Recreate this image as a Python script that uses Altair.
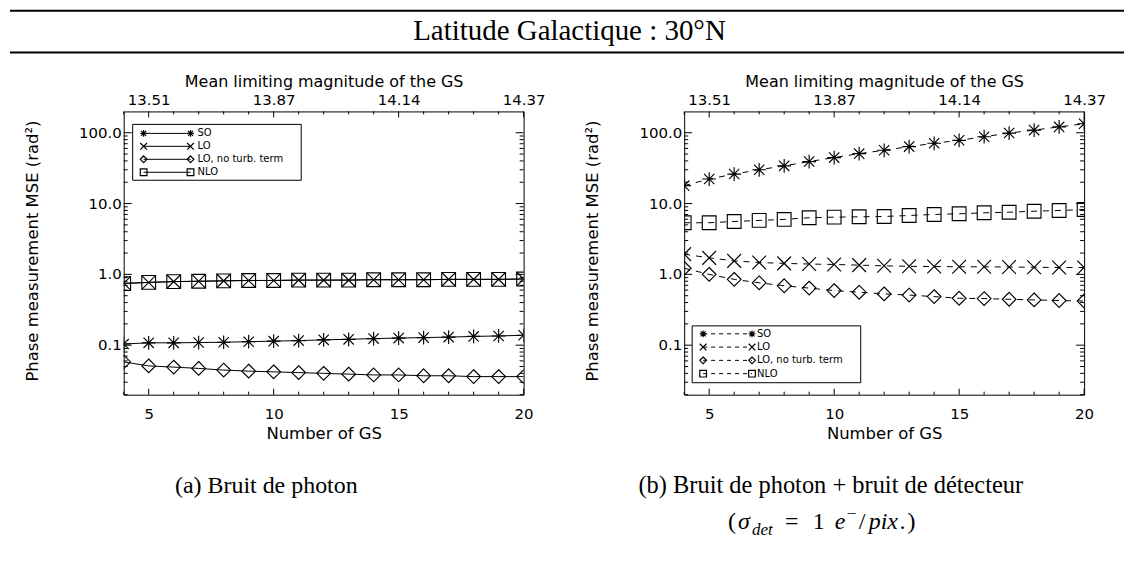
import altair as alt
import pandas as pd

# ---------------- data ----------------
N_GS = list(range(4, 21))
SERIES = ["SO", "LO", "LO, no turb. term", "NLO"]

# (a) photon noise
a_SO = [0.104, 0.108, 0.108, 0.109, 0.110, 0.112, 0.114, 0.116, 0.119, 0.121,
        0.124, 0.126, 0.128, 0.130, 0.133, 0.135, 0.138]
a_LO = [0.75, 0.77, 0.79, 0.80, 0.81, 0.82, 0.82, 0.83, 0.83, 0.83,
        0.84, 0.84, 0.84, 0.85, 0.85, 0.85, 0.86]
a_LO_noturb = [0.058, 0.051, 0.049, 0.047, 0.0445, 0.043, 0.042, 0.041, 0.040, 0.039,
               0.038, 0.038, 0.037, 0.037, 0.036, 0.036, 0.036]
a_NLO = [0.74, 0.77, 0.79, 0.80, 0.81, 0.82, 0.82, 0.83, 0.83, 0.83,
         0.84, 0.84, 0.84, 0.85, 0.85, 0.85, 0.86]

# (b) photon + detector noise
b_SO = [17.9, 22.2, 26.1, 30.0, 34.1, 39.2, 44.6, 50.7, 56.6, 63.7,
        71.0, 78.2, 87.9, 99.0, 109.0, 121.0, 134.0]
b_LO = [1.93, 1.71, 1.55, 1.47, 1.43, 1.40, 1.38, 1.35, 1.32, 1.30,
        1.29, 1.28, 1.28, 1.27, 1.26, 1.25, 1.25]
b_LO_noturb = [1.22, 1.00, 0.85, 0.76, 0.69, 0.64, 0.59, 0.56, 0.53, 0.51,
               0.485, 0.46, 0.455, 0.445, 0.436, 0.427, 0.42]
b_NLO = [5.36, 5.36, 5.58, 5.78, 5.97, 6.31, 6.43, 6.50, 6.57, 6.79,
         7.02, 7.17, 7.40, 7.55, 7.80, 7.98, 8.24]

# ticks / labels
X_MAJOR = [5, 10, 15, 20]
X_MINOR = [4, 6, 7, 8, 9, 11, 12, 13, 14, 16, 17, 18, 19]
MAG_LABELS = ["13.51", "13.87", "14.14", "14.37"]
Y_MAJOR = [0.1, 1, 10, 100]
Y_LABELS = ["0.1", "1.0", "10.0", "100.0"]
Y_MINOR = [0.02, 0.03, 0.04, 0.05, 0.06, 0.07, 0.08, 0.09,
           0.2, 0.3, 0.4, 0.5, 0.6, 0.7, 0.8, 0.9,
           2, 3, 4, 5, 6, 7, 8, 9,
           20, 30, 40, 50, 60, 70, 80, 90]

TITLE_TEXT = "Latitude Galactique : 30°N"
CAPTION_A = "(a) Bruit de photon"
CAPTION_B = "(b) Bruit de photon + bruit de détecteur"
CAPTION_B2 = ["(", "σ", "det", "=", "1", "e", "−", "/", "pix", ".", ")"]
X_TITLE = "Number of GS"
TOP_TITLE = "Mean limiting magnitude of the GS"
Y_TITLE = "Phase measurement MSE (rad²)"

# ---------------- layout / style ----------------
W, H = 401, 284
SANS = "DejaVu Sans"
SERIF = "Liberation Serif"
TITLE_FS = 16.5
XS = dict(domain=[4, 20], nice=False, zero=False)
YS = dict(type="log", domain=[0.02, 200], nice=False)

SHAPE_PATHS = [
    "M-1,0L1,0M0,-1L0,1M-0.75,-0.75L0.75,0.75M-0.75,0.75L0.75,-0.75",  # asterisk
    "M-1,-1L1,1M-1,1L1,-1",                                           # X
    "M0,-1L1,0L0,1L-1,0Z",                                            # diamond
    "M-1,-1L1,-1L1,1L-1,1Z",                                          # square
]
SHAPE_SCALE = alt.Scale(domain=SERIES, range=SHAPE_PATHS)


def lookup_expr(vals, labels):
    return "[" + ",".join("'%s'" % s for s in labels) + "][indexof(" + \
        "[" + ",".join(str(v) for v in vals) + "], datum.value)]"


def xs():
    return alt.Scale(**XS)


def ys():
    return alt.Scale(**YS)


def one(text):
    return pd.DataFrame({"t": [text]})


def vticks(vals, y0, y1, axis=None):
    return alt.Chart(pd.DataFrame({"v": vals})).mark_rule(color="black", strokeWidth=1).encode(
        x=alt.X("v:Q", scale=xs(), axis=axis), y=alt.value(y0), y2=alt.value(y1))


def hticks(vals, x0, x1):
    return alt.Chart(pd.DataFrame({"v": vals})).mark_rule(color="black", strokeWidth=1).encode(
        y=alt.Y("v:Q", scale=ys(), axis=None), x=alt.value(x0), x2=alt.value(x1))


def panel(series_values, dashed, leg):
    rows = []
    for s, vals in zip(SERIES, series_values):
        for n, v in zip(N_GS, vals):
            rows.append({"N": n, "MSE": v, "series": s})
    df = pd.DataFrame(rows)

    line_kw = dict(color="black", strokeWidth=1, clip=True)
    if dashed:
        line_kw["strokeDash"] = [6, 6]

    x_axis = alt.Axis(orient="bottom", values=X_MAJOR, title=X_TITLE, labelPadding=12,
                      titlePadding=4)
    top_axis = alt.Axis(orient="top", values=X_MAJOR, labelExpr=lookup_expr(X_MAJOR, MAG_LABELS),
                        title=TOP_TITLE, titleFontSize=16, labelPadding=4, titlePadding=3)

    lines = alt.Chart(df).mark_line(**line_kw).encode(
        x=alt.X("N:Q", scale=xs(), axis=x_axis),
        y=alt.Y("MSE:Q", scale=ys(), axis=None),
        detail="series:N")
    pts = alt.Chart(df).mark_point(filled=False, color="black", strokeWidth=1.15,
                                   size=190, clip=True, opacity=1).encode(
        x=alt.X("N:Q", scale=xs(), axis=None),
        y=alt.Y("MSE:Q", scale=ys(), axis=None),
        shape=alt.Shape("series:N", scale=SHAPE_SCALE, legend=None))

    # y axis labels and title drawn as text on the shared log scale
    ylab = alt.Chart(pd.DataFrame({"v": Y_MAJOR, "lab": Y_LABELS})).mark_text(
        align="right", baseline="middle", font=SANS, fontSize=15, color="black").encode(
        y=alt.Y("v:Q", scale=ys(), axis=None), x=alt.value(-2), text="lab:N")
    ytitle = alt.Chart(one(Y_TITLE)).mark_text(
        angle=270, align="center", baseline="middle", font=SANS, fontSize=TITLE_FS,
        color="black").encode(x=alt.value(-91), y=alt.value(H / 2 - 2), text="t:N")

    ticks = [
        vticks(X_MAJOR, 0, 6, top_axis),
        vticks(X_MINOR, 0, 3),
        vticks(X_MAJOR, H, H - 6),
        vticks(X_MINOR, H, H - 3),
        hticks(Y_MAJOR, 0, 8),
        hticks(Y_MINOR, 0, 4),
        hticks(Y_MAJOR, W, W - 8),
        hticks(Y_MINOR, W, W - 4),
        ylab, ytitle,
    ]

    # hand-drawn IDL-style legend (pixel layout, one row per series)
    bx0, bx1, by0, by1, row0, step, mx0, mx1, tx = leg
    legend = [alt.Chart(one("")).mark_rect(fillOpacity=0, stroke="black", strokeWidth=1).encode(
        x=alt.value(bx0), x2=alt.value(bx1), y=alt.value(by0), y2=alt.value(by1))]
    lk = dict(color="black", strokeWidth=1)
    if dashed:
        lk["strokeDash"] = [4, 4]
    for i, (s, path) in enumerate(zip(SERIES, SHAPE_PATHS)):
        py = row0 + i * step
        legend.append(alt.Chart(one(s)).mark_rule(**lk).encode(
            x=alt.value(mx0), x2=alt.value(mx1), y=alt.value(py)))
        for mx in (mx0, mx1):
            legend.append(alt.Chart(one(s)).mark_point(
                filled=False, color="black", strokeWidth=1.2, size=45, opacity=1,
                shape=path).encode(x=alt.value(mx), y=alt.value(py)))
        legend.append(alt.Chart(one(s)).mark_text(
            align="left", baseline="middle", font=SANS, fontSize=10, color="black").encode(
            x=alt.value(tx), y=alt.value(py), text="t:N"))

    return [lines, pts] + ticks + legend


left_layers = panel([a_SO, a_LO, a_LO_noturb, a_NLO], False,
                    (9, 178, 13, 69, 22, 13, 20, 67, 74))
right_layers = panel([b_SO, b_LO, b_LO_noturb, b_NLO], True,
                     (8, 177, 215, 272, 223, 13.3, 19, 68, 73))

# page header and captions (placed relative to the left panel)
hdr = []
for yy in (-101, -59):
    hdr.append(alt.Chart(one("")).mark_rule(color="black", strokeWidth=2).encode(
        x=alt.value(-114), x2=alt.value(1003), y=alt.value(yy)))
hdr.append(alt.Chart(one(TITLE_TEXT)).mark_text(
    align="center", baseline="alphabetic", font=SERIF, fontSize=29, color="black").encode(
    text="t:N", x=alt.value(447), y=alt.value(-72)))
hdr.append(alt.Chart(one(CAPTION_A)).mark_text(
    align="center", baseline="alphabetic", font=SERIF, fontSize=24, color="black").encode(
    text="t:N", x=alt.value(143), y=alt.value(383)))
hdr.append(alt.Chart(one(CAPTION_B)).mark_text(
    align="center", baseline="alphabetic", font=SERIF, fontSize=24.5, color="black").encode(
    text="t:N", x=alt.value(709), y=alt.value(383)))

# second caption line, math-like pieces
B2_X0, B2_Y = 606, 419
b2_layout = [  # (dx, dy, size, style)
    (0, 0, 24, "normal"), (10, 0, 24, "italic"), (24, 6, 17, "italic"),
    (57, 0, 24, "normal"), (85, 0, 24, "normal"), (107, 0, 24, "italic"),
    (119, -10, 17, "normal"), (131, 0, 24, "normal"), (141, 0, 24, "italic"),
    (172, 0, 24, "normal"), (180, 0, 24, "normal"),
]
for piece, (dx, dy, fs, st) in zip(CAPTION_B2, b2_layout):
    hdr.append(alt.Chart(one(piece)).mark_text(
        align="left", baseline="alphabetic", font=SERIF, fontSize=fs, fontStyle=st,
        color="black").encode(text="t:N", x=alt.value(B2_X0 + dx), y=alt.value(B2_Y + dy)))

left = alt.layer(*(left_layers + hdr)).properties(width=W, height=H)
right = alt.layer(*right_layers).properties(width=W, height=H)

chart = alt.HConcatChart(hconcat=[left, right], spacing=161, bounds="flush", padding=0,
                         background="white").configure_view(
    stroke="black", strokeWidth=1).configure_axis(
    labelFont=SANS, labelFontSize=15, labelColor="black", titleFont=SANS,
    titleFontSize=TITLE_FS, titleFontWeight="normal", titleColor="black", ticks=False,
    tickSize=0, domain=False, grid=False, labelFlush=False, labelOverlap=False)

chart.save("out.html", embed_options={"renderer": "svg", "actions": False})
